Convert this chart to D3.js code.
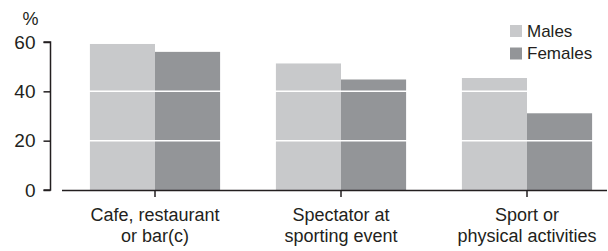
<!DOCTYPE html>
<html>
<head>
<meta charset="utf-8">
<script src="https://cdn.jsdelivr.net/npm/d3@7"></script>
<style>
  body { margin: 0; background: #fff; }
  text { font-family: "Liberation Sans", Arial, sans-serif; fill: #231f20; }
</style>
</head>
<body>
<div id="chart"></div>
<script>
// data
const categories = [["Cafe, restaurant", "or bar(c)"], ["Spectator at", "sporting event"], ["Sport or", "physical activities"]];
const series = ["Males", "Females"];
const males = [59.2, 51.3, 45.4];
const females = [56.0, 44.8, 31.1];
const yTicks = [0, 20, 40, 60];

const C = { males: "#c8c9cb", females: "#939598", axis: "#231f20" };

const W = 608, H = 251;
const svg = d3.select("#chart").append("svg").attr("width", W).attr("height", H);

const keys = categories.map(d => d.join(" "));
const x0 = d3.scaleBand().domain(keys).range([62, 620]).paddingInner(0.3).paddingOuter(0.15);
const x1 = d3.scaleBand().domain(series).range([0, x0.bandwidth()]);
const y = d3.scaleLinear().domain([0, 60]).range([190, 42]);

const data = keys.map((k, i) => ({ key: k, lines: categories[i], Males: males[i], Females: females[i] }));

// bars
const grp = svg.selectAll(".grp").data(data).join("g")
  .attr("transform", d => `translate(${x0(d.key)},0)`);
grp.selectAll("rect").data(d => series.map(s => ({ s, v: d[s] }))).join("rect")
  .attr("x", d => x1(d.s))
  .attr("width", x1.bandwidth())
  .attr("y", d => y(d.v))
  .attr("height", d => y(0) - y(d.v))
  .attr("fill", d => d.s === "Males" ? C.males : C.females);

// white gridlines across bars
svg.selectAll(".grid").data(yTicks.filter(t => t > 0)).join("line")
  .attr("x1", 62).attr("x2", 607)
  .attr("y1", d => y(d)).attr("y2", d => y(d))
  .attr("stroke", "#fff").attr("stroke-width", 1.5);

// y axis
const yAx = svg.append("g").attr("transform", "translate(50.5,0)")
  .call(d3.axisLeft(y).tickValues(yTicks).tickSize(7).tickPadding(8));
yAx.selectAll("path, line").attr("stroke", C.axis).attr("stroke-width", 1.5);
yAx.select(".domain").attr("d", `M-7,${y(60)}H0V${y(0)}H-7`);
yAx.selectAll("text").style("font-size", "19px").attr("fill", C.axis)
  .attr("font-family", "Liberation Sans, Arial, sans-serif");

svg.append("text").attr("x", 30.5).attr("y", 24.5).attr("text-anchor", "middle")
  .style("font-size", "18px").text("%");

// x axis baseline and ticks
svg.append("line").attr("x1", 62).attr("x2", 607).attr("y1", 190.5).attr("y2", 190.5)
  .attr("stroke", C.axis).attr("stroke-width", 1.5);
svg.selectAll(".xt").data(data).join("line")
  .attr("x1", d => x0(d.key) + x0.bandwidth() / 2)
  .attr("x2", d => x0(d.key) + x0.bandwidth() / 2)
  .attr("y1", 190).attr("y2", 197)
  .attr("stroke", C.axis).attr("stroke-width", 1.5);

const lbl = svg.selectAll(".xl").data(data).join("text")
  .attr("text-anchor", "middle")
  .attr("transform", d => `translate(${x0(d.key) + x0.bandwidth() / 2},0)`)
  .style("font-size", "18px");
lbl.selectAll("tspan").data(d => d.lines).join("tspan")
  .attr("x", 0).attr("y", (d, i) => 220.5 + i * 21.5).text(d => d);

// legend
const lg = svg.selectAll(".lg").data(series).join("g")
  .attr("transform", (d, i) => `translate(510,${25 + i * 22.5})`);
lg.append("rect").attr("width", 12).attr("height", 12)
  .attr("fill", d => d === "Males" ? C.males : C.females);
lg.append("text").attr("x", 17).attr("y", 11.7).style("font-size", "17px").text(d => d);
</script>
</body>
</html>
